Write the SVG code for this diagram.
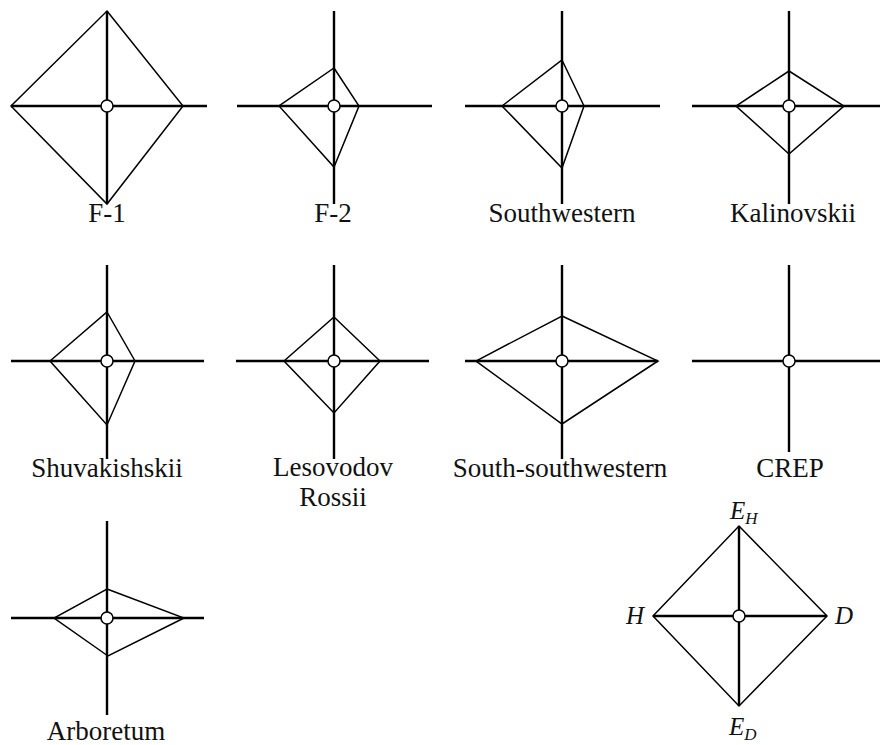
<svg xmlns="http://www.w3.org/2000/svg" width="880" height="745" viewBox="0 0 880 745">
  <style>
    .axis { stroke: #000; stroke-width: 2.4; fill: none; stroke-linecap: butt; }
    .poly { stroke: #000; stroke-width: 1.5; fill: none; stroke-linejoin: miter; }
    .hub { stroke: #000; stroke-width: 1.5; fill: #fff; }
    .lbl { font-family: "Liberation Serif", "Times New Roman", serif; font-size: 27px; fill: #111; text-anchor: middle; }
    .sym { font-family: "Liberation Serif", "Times New Roman", serif; font-size: 25px; font-style: italic; fill: #111; }
    .sub { font-size: 17px; }
  </style>
  <rect width="880" height="745" fill="#fff"/>

  <!-- F-1 -->
  <g id="f1">
    <polygon class="poly" points="107,11 183,106 107,204 11,106"/>
    <path class="axis" d="M107,11V204M11,106H207"/>
    <circle class="hub" cx="107" cy="106" r="6"/>
    <text class="lbl" x="107" y="222">F-1</text>
  </g>

  <!-- F-2 -->
  <g id="f2">
    <polygon class="poly" points="334,68 359,106 334,167 279,106"/>
    <path class="axis" d="M334,11V204M237,106H432"/>
    <circle class="hub" cx="334" cy="106" r="6"/>
    <text class="lbl" x="333" y="222">F-2</text>
  </g>

  <!-- Southwestern -->
  <g id="southwestern">
    <polygon class="poly" points="562,60 584,106 562,168 502,106"/>
    <path class="axis" d="M562,11V204M465,106H660"/>
    <circle class="hub" cx="562" cy="106" r="6"/>
    <text class="lbl" x="562" y="222">Southwestern</text>
  </g>

  <!-- Kalinovskii -->
  <g id="kalinovskii">
    <polygon class="poly" points="789,71 844,106 789,154 736,106"/>
    <path class="axis" d="M789,11V204M692,106H886"/>
    <circle class="hub" cx="789" cy="106" r="6"/>
    <text class="lbl" x="793" y="222">Kalinovskii</text>
  </g>

  <!-- Shuvakishskii -->
  <g id="shuvakishskii">
    <polygon class="poly" points="107,312 135,361 107,425 50,361"/>
    <path class="axis" d="M107,265V459M11,361H204"/>
    <circle class="hub" cx="107" cy="361" r="6"/>
    <text class="lbl" x="107" y="477">Shuvakishskii</text>
  </g>

  <!-- Lesovodov Rossii -->
  <g id="lesovodov-rossii">
    <polygon class="poly" points="334,317 380,361 334,413 284,361"/>
    <path class="axis" d="M334,265V459M236,361H429"/>
    <circle class="hub" cx="334" cy="361" r="6"/>
    <text class="lbl" x="333" y="476">Lesovodov</text>
    <text class="lbl" x="333" y="506">Rossii</text>
  </g>

  <!-- South-southwestern -->
  <g id="south-southwestern">
    <polygon class="poly" points="562,316 658,361 562,424 476,361"/>
    <path class="axis" d="M562,265V459M465,361H658"/>
    <circle class="hub" cx="562" cy="361" r="6"/>
    <text class="lbl" x="560" y="477">South-southwestern</text>
  </g>

  <!-- CREP -->
  <g id="crep">
    <path class="axis" d="M789,265V452M692,361H886"/>
    <circle class="hub" cx="789" cy="361" r="6"/>
    <text class="lbl" x="790" y="477">CREP</text>
  </g>

  <!-- Arboretum -->
  <g id="arboretum">
    <polygon class="poly" points="107,589 184,618 108,656 54,618"/>
    <path class="axis" d="M107,521V715M11,618H204"/>
    <circle class="hub" cx="107" cy="618" r="6"/>
    <text class="lbl" x="106" y="740">Arboretum</text>
  </g>

  <!-- Key: axes H, D, E_H, E_D -->
  <g id="key">
    <polygon class="poly" points="739,526 827,616 739,706 653,616"/>
    <path class="axis" d="M739,526V706M653,616H827"/>
    <circle class="hub" cx="739" cy="616" r="6"/>
    <text class="sym" x="626" y="624">H</text>
    <text class="sym" x="835" y="624">D</text>
    <text class="sym" x="730" y="519">E<tspan class="sub" dy="5">H</tspan></text>
    <text class="sym" x="729" y="735">E<tspan class="sub" dy="5">D</tspan></text>
  </g>
</svg>
